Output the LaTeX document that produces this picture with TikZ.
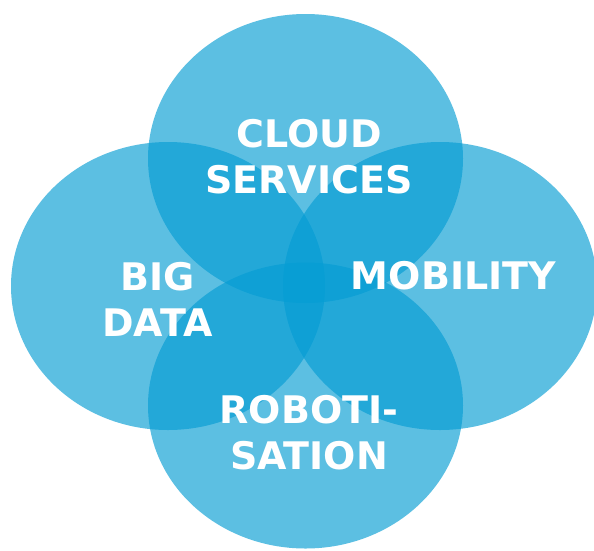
\documentclass[tikz,border=0pt]{standalone}
\usepackage{fontspec}
\setmainfont{DejaVu Sans}
\definecolor{vennblue}{RGB}{4,156,211}
\begin{document}
\begin{tikzpicture}[x=1pt,y=-1pt,
  petal/.style={fill=vennblue,fill opacity=0.65},
  label/.style={text=white,font=\bfseries\fontsize{38}{46}\selectfont,align=center,inner sep=0pt}]
\useasboundingbox (0,0) rectangle (594,550);
\clip (0,0) rectangle (594,550);
\fill[petal] (305.5,158.5) ellipse [x radius=157.5, y radius=144.5];
\fill[petal] (168,286) ellipse [x radius=157, y radius=144];
\fill[petal] (440,286) ellipse [x radius=157, y radius=144];
\fill[petal] (305.5,405.5) ellipse [x radius=157.5, y radius=143];
\node[label] (cloud) at (309,156.5) {CLOUD\\SERVICES};
\node[label] (big) at (157.5,299) {BIG\\DATA};
\node[label] (mob) at (453.5,276) {MOBILITY};
\node[label] (robo) at (309,433) {ROBOTI-\\SATION};
\end{tikzpicture}
\end{document}
